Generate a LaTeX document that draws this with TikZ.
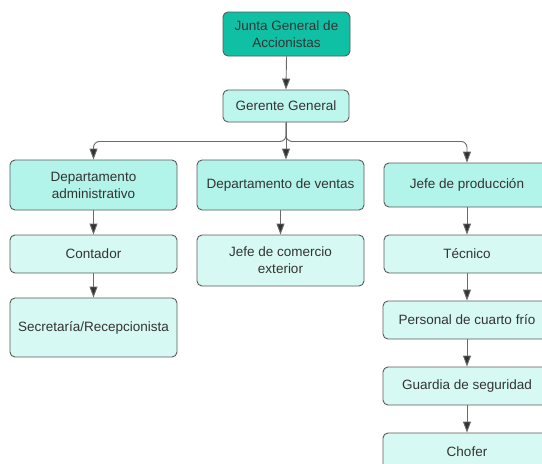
\documentclass[tikz,border=0pt]{standalone}
\usepackage{fontspec}
\setmainfont{Liberation Sans}
\usetikzlibrary{arrows.meta}
\definecolor{topfill}{HTML}{0FC0A5}
\definecolor{midfill}{HTML}{B3F4EA}
\definecolor{lowfill}{HTML}{D6FAF3}
\definecolor{edgegray}{HTML}{5A5A5A}
\definecolor{linegray}{HTML}{6A6A6A}
\definecolor{txtgray}{HTML}{333333}
\begin{document}
\begin{tikzpicture}[x=1pt,y=-1pt,
  box/.style={draw=edgegray, line width=0.9pt, rounded corners=5pt, align=center,
    text=txtgray, font=\fontsize{13.5}{17}\selectfont, inner sep=0pt},
  topbox/.style={box, fill=topfill},
  midbox/.style={box, fill=midfill},
  lowbox/.style={box, fill=lowfill},
  arr/.style={draw=linegray, line width=0.9pt, -{Triangle[length=11pt,width=8pt,fill=txtgray]}},
  branch/.style={arr, rounded corners=6pt}]
\useasboundingbox (0,0) rectangle (542,464);
\clip (0,0) rectangle (542,464);
\fill[white] (0,0) rectangle (542,464);

\node[topbox, minimum width=127pt, minimum height=44pt] (jun) at (286.5,34) {Junta General de\\Accionistas};
\node[lowbox, fill=midfill!70!lowfill, minimum width=126pt, minimum height=32pt] (ger) at (286,106) {Gerente General};

\node[midbox, minimum width=167pt, minimum height=50pt] (adm) at (93.5,185) {Departamento\\administrativo};
\node[midbox, minimum width=167pt, minimum height=50pt] (ven) at (280.5,185) {Departamento de ventas};
\node[midbox, minimum width=166pt, minimum height=44pt] (pro) at (467,185) {Jefe de producción};

\node[lowbox, minimum width=167pt, minimum height=38pt] (con) at (93.5,254) {Contador};
\node[lowbox, minimum width=167pt, minimum height=59pt] (sec) at (93.5,327.5) {Secretaría/Recepcionista};
\node[lowbox, minimum width=167pt, minimum height=51pt] (com) at (280.5,260.5) {Jefe de comercio\\exterior};

\node[lowbox, minimum width=166pt, minimum height=38pt] (tec) at (467,254) {Técnico};
\node[lowbox, minimum width=168pt, minimum height=38pt] (per) at (467,320) {Personal de cuarto frío};
\node[lowbox, minimum width=168pt, minimum height=38pt] (gua) at (467,386) {Guardia de seguridad};
\node[lowbox, minimum width=168pt, minimum height=38pt] (cho) at (467,452) {Chofer};

\draw[arr] (jun.south) -- (ger.north);
\draw[branch] (ger.south) -- ++(0,19) -| (adm.north);
\draw[branch] (ger.south) -- ++(0,19) -| (pro.north);
\draw[arr] (ger.south) -- (ger.south |- ven.north);

\draw[arr] (adm) -- (con);
\draw[arr] (con) -- (sec);
\draw[arr] (ven) -- (com);
\draw[arr] (pro) -- (tec);
\draw[arr] (tec) -- (per);
\draw[arr] (per) -- (gua);
\draw[arr] (gua) -- (cho);
\end{tikzpicture}
\end{document}
